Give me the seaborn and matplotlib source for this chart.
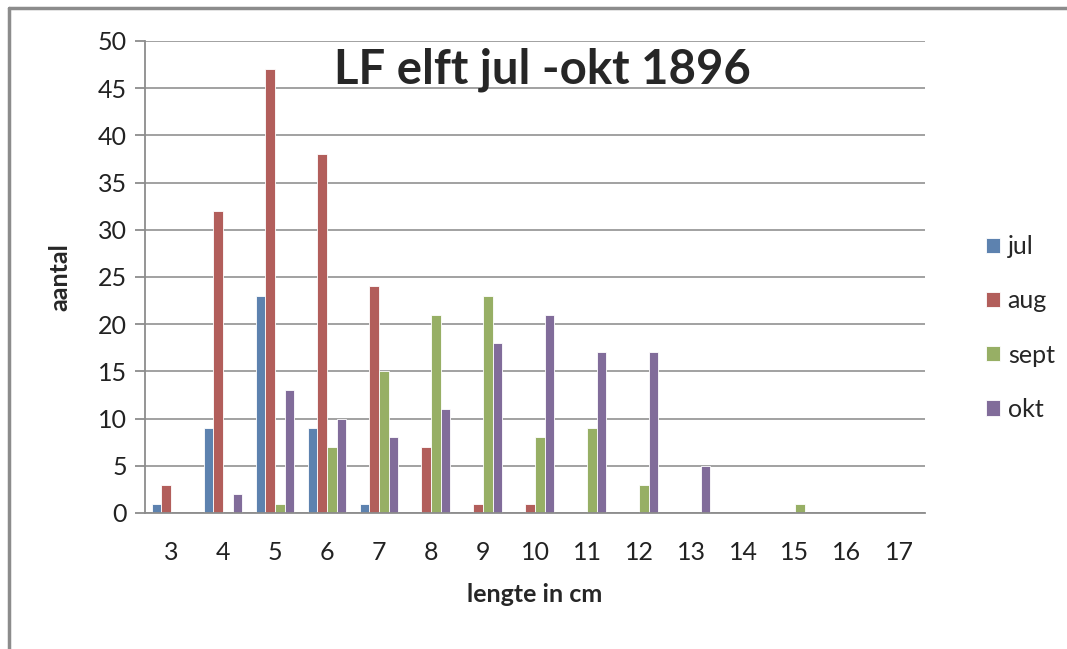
import pandas as pd
import matplotlib.pyplot as plt
import seaborn as sns
from matplotlib.lines import Line2D

# ===========================
# Data
# ===========================
lengths = [3, 4, 5, 6, 7, 8, 9, 10, 11, 12, 13, 14, 15, 16, 17]
jul = [1, 9, 23, 9, 1, 0, 0, 0, 0, 0, 0, 0, 0, 0, 0]
aug = [3, 32, 47, 38, 24, 7, 1, 1, 0, 0, 0, 0, 0, 0, 0]
sept = [0, 0, 1, 7, 15, 21, 23, 8, 9, 3, 0, 0, 1, 0, 0]
okt = [0, 2, 13, 10, 8, 11, 18, 21, 17, 17, 5, 0, 0, 0, 0]
months = ["jul", "aug", "sept", "okt"]
colors = ["#4F81BD", "#C0504D", "#9BBB59", "#8064A2"]

df = pd.DataFrame({"lengte": lengths, "jul": jul, "aug": aug, "sept": sept, "okt": okt})
long_df = df.melt(id_vars="lengte", var_name="maand", value_name="aantal")

# ===========================
# Plot
# ===========================
sns.set_style("white")
plt.rcParams["font.family"] = ["Lato", "DejaVu Sans"]

fig = plt.figure(figsize=(10.67, 6.49), dpi=100)
ax = fig.add_axes([0.1359, 0.2096, 0.731, 0.7273])

sns.barplot(data=long_df, x="lengte", y="aantal", hue="maand", hue_order=months,
            palette=colors, width=0.74, gap=0, linewidth=0.6, edgecolor="#ffffff",
            ax=ax, legend=True)

ax.set_ylim(0, 50)
ax.set_xlim(-0.5, len(lengths) - 0.5)
ax.set_yticks(range(0, 51, 5))
ax.yaxis.grid(True, color="#9a9a9a", linewidth=1.3)
ax.set_axisbelow(True)
for s in ["top", "right"]:
    ax.spines[s].set_visible(False)
for s in ["left", "bottom"]:
    ax.spines[s].set_color("#8c8c8c")
    ax.spines[s].set_linewidth(1.3)

ax.set_xticks(range(len(lengths)))
ax.set_xticklabels([str(v) for v in lengths])
ax.set_xticks([i - 0.5 for i in range(len(lengths) + 1)], minor=True)
ax.tick_params(axis="x", which="major", length=0, labelsize=18, pad=20, colors="#222222")
ax.tick_params(axis="x", which="minor", length=7, width=1.3, color="#8c8c8c")
ax.tick_params(axis="y", length=7, width=1.3, color="#8c8c8c", labelsize=18, pad=6,
               left=True, labelcolor="#222222")

ax.set_xlabel("lengte in cm", fontsize=18, fontweight="bold", labelpad=14)
ax.set_ylabel("aantal", fontsize=18, fontweight="bold", labelpad=19)
ax.set_title("LF elft jul -okt 1896", fontsize=34, fontweight="bold", x=0.51, y=0.893)

ax.legend(loc="center left", bbox_to_anchor=(1.05, 0.392), frameon=False,
          fontsize=18, handlelength=0.55, handleheight=0.55, labelspacing=1.25,
          handletextpad=0.3)

# outer chart border (left and top edges visible)
fig.add_artist(Line2D([0.008, 0.008], [0.0, 0.988], transform=fig.transFigure,
                      color="#8c8c8c", linewidth=2.5))
fig.add_artist(Line2D([0.008, 1.0], [0.988, 0.988], transform=fig.transFigure,
                      color="#8c8c8c", linewidth=2.5))

fig.savefig("out.png", dpi=100)
